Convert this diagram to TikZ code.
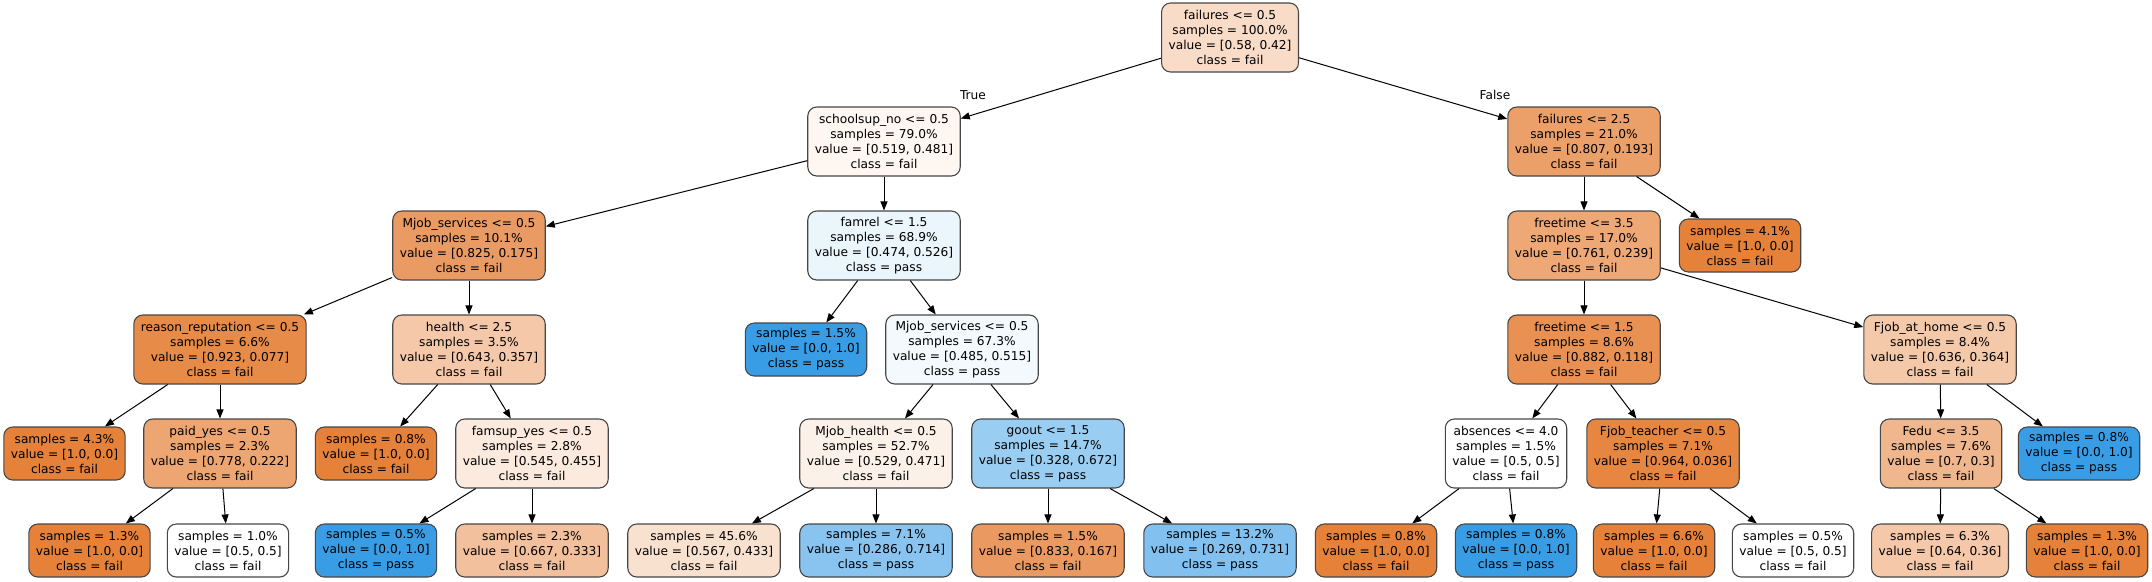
\documentclass[tikz,border=0pt]{standalone}
\usepackage{fontspec}
\setmainfont{DejaVu Sans}
\usetikzlibrary{arrows.meta}
\definecolor{failc}{RGB}{229,129,57}
\definecolor{passc}{RGB}{57,157,229}
\newcommand{\dtfont}{\fontsize{12.2}{15}\selectfont}
\tikzset{
  tn/.style={draw=black!72, line width=1.1pt, rounded corners=9pt, align=center,
    inner xsep=7pt, inner ysep=0pt, minimum height=69pt, font=\dtfont},
  lf/.style={tn, minimum height=53pt},
  ed/.style={-{Triangle[length=9pt,width=7pt]}, line width=1pt, black},
  elab/.style={font=\dtfont, inner sep=0pt}
}
\begin{document}
\begin{tikzpicture}[x=1pt,y=-1pt]
\useasboundingbox[fill=white] (0,0) rectangle (2152,581);
% level 0
\node[tn, fill=failc!28!white] (n0) at (1230,37.5) {failures <= 0.5\\samples = 100.0\%\\value = [0.58, 0.42]\\class = fail};
% level 1
\node[tn, fill=failc!7!white] (n1) at (884,141.5) {schoolsup\_no <= 0.5\\samples = 79.0\%\\value = [0.519, 0.481]\\class = fail};
\node[tn, fill=failc!76!white] (n2) at (1584,141.5) {failures <= 2.5\\samples = 21.0\%\\value = [0.807, 0.193]\\class = fail};
% level 2
\node[tn, fill=failc!79!white] (n3) at (469,245.5) {Mjob\_services <= 0.5\\samples = 10.1\%\\value = [0.825, 0.175]\\class = fail};
\node[tn, fill=passc!10!white] (n4) at (884,245.5) {famrel <= 1.5\\samples = 68.9\%\\value = [0.474, 0.526]\\class = pass};
\node[tn, fill=failc!69!white] (n5) at (1584,245.5) {freetime <= 3.5\\samples = 17.0\%\\value = [0.761, 0.239]\\class = fail};
\node[lf, fill=failc] (n6) at (1740,245.5) {samples = 4.1\%\\value = [1.0, 0.0]\\class = fail};
% level 3
\node[tn, fill=failc!92!white] (n7) at (220,349.5) {reason\_reputation <= 0.5\\samples = 6.6\%\\value = [0.923, 0.077]\\class = fail};
\node[tn, fill=failc!44!white] (n8) at (469,349.5) {health <= 2.5\\samples = 3.5\%\\value = [0.643, 0.357]\\class = fail};
\node[lf, fill=passc] (n9) at (806,349.5) {samples = 1.5\%\\value = [0.0, 1.0]\\class = pass};
\node[tn, fill=passc!6!white] (n10) at (962,349.5) {Mjob\_services <= 0.5\\samples = 67.3\%\\value = [0.485, 0.515]\\class = pass};
\node[tn, fill=failc!87!white] (n11) at (1584,349.5) {freetime <= 1.5\\samples = 8.6\%\\value = [0.882, 0.118]\\class = fail};
\node[tn, fill=failc!43!white] (n12) at (1940,349.5) {Fjob\_at\_home <= 0.5\\samples = 8.4\%\\value = [0.636, 0.364]\\class = fail};
% level 4
\node[lf, fill=failc] (n13) at (64.5,453.5) {samples = 4.3\%\\value = [1.0, 0.0]\\class = fail};
\node[tn, fill=failc!71!white] (n14) at (220,453.5) {paid\_yes <= 0.5\\samples = 2.3\%\\value = [0.778, 0.222]\\class = fail};
\node[lf, fill=failc] (n15) at (376,453.5) {samples = 0.8\%\\value = [1.0, 0.0]\\class = fail};
\node[tn, fill=failc!17!white] (n16) at (532,453.5) {famsup\_yes <= 0.5\\samples = 2.8\%\\value = [0.545, 0.455]\\class = fail};
\node[tn, fill=failc!11!white] (n17) at (876,453.5) {Mjob\_health <= 0.5\\samples = 52.7\%\\value = [0.529, 0.471]\\class = fail};
\node[tn, fill=passc!51!white] (n18) at (1048,453.5) {goout <= 1.5\\samples = 14.7\%\\value = [0.328, 0.672]\\class = pass};
\node[tn, fill=white] (n19) at (1506,453.5) {absences <= 4.0\\samples = 1.5\%\\value = [0.5, 0.5]\\class = fail};
\node[tn, fill=failc!96!white] (n20) at (1663,453.5) {Fjob\_teacher <= 0.5\\samples = 7.1\%\\value = [0.964, 0.036]\\class = fail};
\node[tn, fill=failc!57!white] (n21) at (1941,453.5) {Fedu <= 3.5\\samples = 7.6\%\\value = [0.7, 0.3]\\class = fail};
\node[lf, fill=passc] (n22) at (2079,453.5) {samples = 0.8\%\\value = [0.0, 1.0]\\class = pass};
% level 5
\node[lf, fill=failc] (n23) at (89.5,550.5) {samples = 1.3\%\\value = [1.0, 0.0]\\class = fail};
\node[lf, fill=white] (n24) at (228,550.5) {samples = 1.0\%\\value = [0.5, 0.5]\\class = fail};
\node[lf, fill=passc] (n25) at (376,550.5) {samples = 0.5\%\\value = [0.0, 1.0]\\class = pass};
\node[lf, fill=failc!50!white] (n26) at (532,550.5) {samples = 2.3\%\\value = [0.667, 0.333]\\class = fail};
\node[lf, fill=failc!24!white] (n27) at (704,550.5) {samples = 45.6\%\\value = [0.567, 0.433]\\class = fail};
\node[lf, fill=passc!60!white] (n28) at (876,550.5) {samples = 7.1\%\\value = [0.286, 0.714]\\class = pass};
\node[lf, fill=failc!80!white] (n29) at (1048,550.5) {samples = 1.5\%\\value = [0.833, 0.167]\\class = fail};
\node[lf, fill=passc!63!white] (n30) at (1220,550.5) {samples = 13.2\%\\value = [0.269, 0.731]\\class = pass};
\node[lf, fill=failc] (n31) at (1376,550.5) {samples = 0.8\%\\value = [1.0, 0.0]\\class = fail};
\node[lf, fill=passc] (n32) at (1516,550.5) {samples = 0.8\%\\value = [0.0, 1.0]\\class = pass};
\node[lf, fill=failc] (n33) at (1654,550.5) {samples = 6.6\%\\value = [1.0, 0.0]\\class = fail};
\node[lf, fill=white] (n34) at (1793,550.5) {samples = 0.5\%\\value = [0.5, 0.5]\\class = fail};
\node[lf, fill=failc!44!white] (n35) at (1940,550.5) {samples = 6.3\%\\value = [0.64, 0.36]\\class = fail};
\node[lf, fill=failc] (n36) at (2087,550.5) {samples = 1.3\%\\value = [1.0, 0.0]\\class = fail};
% edge labels
\node[elab] (ltrue) at (973,95) {True};
\node[elab] (lfalse) at (1495,95) {False};
% edges
\draw[ed] (n0) -- (n1);
\draw[ed] (n0) -- (n2);
\draw[ed] (n1) -- (n3);
\draw[ed] (n1) -- (n4);
\draw[ed] (n2) -- (n5);
\draw[ed] (n2) -- (n6);
\draw[ed] (n3) -- (n7);
\draw[ed] (n3) -- (n8);
\draw[ed] (n4) -- (n9);
\draw[ed] (n4) -- (n10);
\draw[ed] (n5) -- (n11);
\draw[ed] (n5) -- (n12);
\draw[ed] (n7) -- (n13);
\draw[ed] (n7) -- (n14);
\draw[ed] (n8) -- (n15);
\draw[ed] (n8) -- (n16);
\draw[ed] (n10) -- (n17);
\draw[ed] (n10) -- (n18);
\draw[ed] (n11) -- (n19);
\draw[ed] (n11) -- (n20);
\draw[ed] (n12) -- (n21);
\draw[ed] (n12) -- (n22);
\draw[ed] (n14) -- (n23);
\draw[ed] (n14) -- (n24);
\draw[ed] (n16) -- (n25);
\draw[ed] (n16) -- (n26);
\draw[ed] (n17) -- (n27);
\draw[ed] (n17) -- (n28);
\draw[ed] (n18) -- (n29);
\draw[ed] (n18) -- (n30);
\draw[ed] (n19) -- (n31);
\draw[ed] (n19) -- (n32);
\draw[ed] (n20) -- (n33);
\draw[ed] (n20) -- (n34);
\draw[ed] (n21) -- (n35);
\draw[ed] (n21) -- (n36);
\end{tikzpicture}
\end{document}
